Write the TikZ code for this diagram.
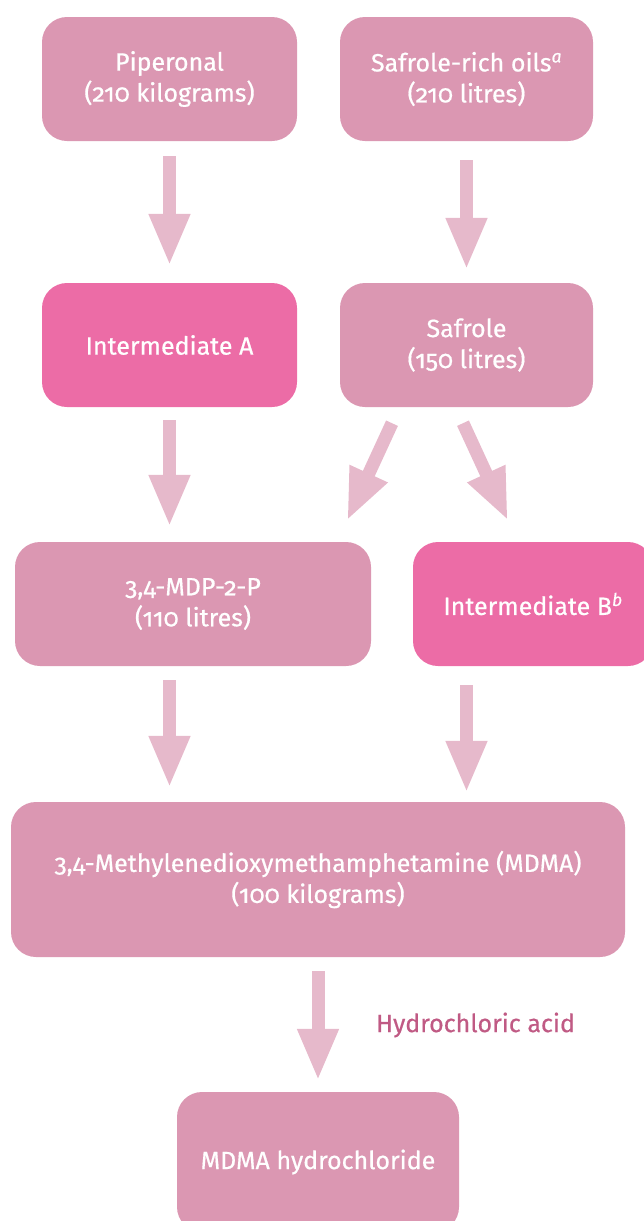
\documentclass[tikz,border=0pt]{standalone}
\usepackage{fontspec}
\setmainfont{Fira Sans}[Numbers=OldStyle, FakeBold=0.6]
\usetikzlibrary{arrows.meta,calc}
\definecolor{boxpink}{HTML}{DB97B2}
\definecolor{hotpink}{HTML}{EC6CA6}
\definecolor{arrowpink}{HTML}{E6B9CB}
\definecolor{labelpink}{HTML}{C05A84}
\tikzset{
  box/.style={rectangle, rounded corners=25pt, fill=boxpink, text=white,
    align=center, font=\fontsize{25}{31}\selectfont, inner sep=0pt,
    minimum height=124pt},
  hotbox/.style={box, fill=hotpink},
  arr/.style={draw=arrowpink, line width=13pt,
    -{Triangle[width=38pt,length=52pt]}, fill=arrowpink},
  lbl/.style={text=labelpink, font=\fontsize{25}{30}\selectfont, inner sep=0pt}
}
\begin{document}
\begin{tikzpicture}[x=1pt,y=-1pt]
\useasboundingbox (0,0) rectangle (644,1221);
\clip (0,0) rectangle (644,1221);
\node[box, minimum width=255pt] (pip) at (169.5,79) {Piperonal\\(210 kilograms)};
\node[box, minimum width=253pt] (sro) at (466.5,79) {Safrole-rich oils\textsuperscript{\itshape a}\\(210 litres)};
\node[hotbox, minimum width=255pt] (inta) at (169.5,345) {Intermediate A};
\node[box, minimum width=253pt] (saf) at (466.5,345) {Safrole\\(150 litres)};
\node[box, minimum width=356pt] (mdp) at (193,604) {3,4-MDP-2-P\\(110 litres)};
\node[hotbox, minimum width=240pt] (intb) at (533,604) {Intermediate B\textsuperscript{\itshape b}};
\node[box, minimum width=614pt, minimum height=155pt] (mdma) at (318,879.5) {3,4-Methylenedioxymethamphetamine (MDMA)\\(100 kilograms)};
\node[box, minimum width=282pt, minimum height=140pt] (hcl) at (318,1162) {MDMA hydrochloride};
\node[lbl] (acid) at (475.5,1025) {Hydrochloric acid};
% arrows
\draw[arr, shorten <=15pt, shorten >=17pt] (pip) -- (inta);
\draw[arr, shorten <=19pt, shorten >=13pt] (sro) -- (saf);
\draw[arr, shorten <=13pt, shorten >=15pt] (inta.south) -- (inta.south |- mdp.north);
\draw[arr] ($(saf.south)+(-74.5,16)$) -- ($(mdp.north)+(154,-21)$);
\draw[arr] ($(saf.south)+(-3.5,16)$) -- ($(intb.north)+(-25,-21)$);
\draw[arr, shorten <=14pt, shorten >=14pt] (mdp.south -| inta) -- (mdma.north -| inta);
\draw[arr, shorten <=19pt, shorten >=9pt] (intb.south -| saf) -- (mdma.north -| saf);
\draw[arr, shorten <=14pt, shorten >=11pt] (mdma) -- (hcl);
\end{tikzpicture}
\end{document}
